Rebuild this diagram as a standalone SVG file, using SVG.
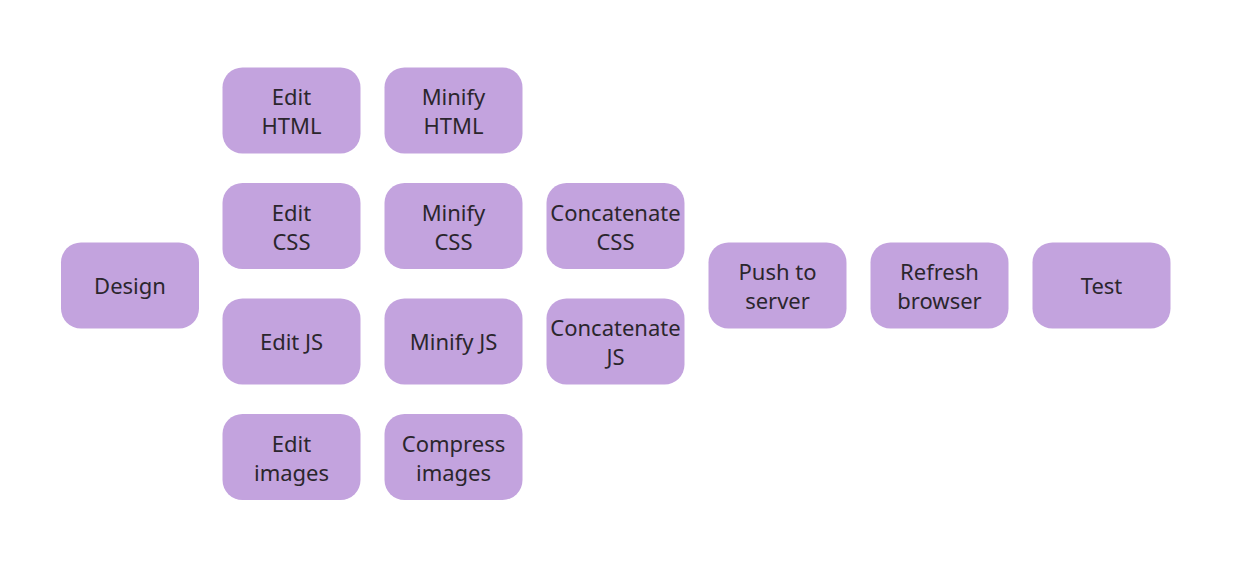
<svg xmlns="http://www.w3.org/2000/svg" width="1248" height="574" viewBox="0 0 1248 574">
<style>
.box{fill:#C3A3DE;}
.t{font-family:"Noto Sans","Liberation Sans",sans-serif;font-size:22px;fill:#2b262d;text-anchor:middle;}
</style>
<defs>
<rect id="b" class="box" width="138" height="86" rx="20" ry="20"/>
</defs>
<rect width="1248" height="574" fill="#ffffff"/>
<g id="connectors"></g>
<g id="design"><use href="#b" x="61" y="242.5"/><text class="t" x="130" y="294">Design</text></g>
<g id="edit-html"><use href="#b" x="222.5" y="67.5"/><text class="t" x="291.5" y="105">Edit</text><text class="t" x="291.5" y="134">HTML</text></g>
<g id="edit-css"><use href="#b" x="222.5" y="183"/><text class="t" x="291.5" y="220.5">Edit</text><text class="t" x="291.5" y="249.5">CSS</text></g>
<g id="edit-js"><use href="#b" x="222.5" y="298.5"/><text class="t" x="291.5" y="350">Edit JS</text></g>
<g id="edit-images"><use href="#b" x="222.5" y="414"/><text class="t" x="291.5" y="451.5">Edit</text><text class="t" x="291.5" y="480.5">images</text></g>
<g id="minify-html"><use href="#b" x="384.5" y="67.5"/><text class="t" x="453.5" y="105">Minify</text><text class="t" x="453.5" y="134">HTML</text></g>
<g id="minify-css"><use href="#b" x="384.5" y="183"/><text class="t" x="453.5" y="220.5">Minify</text><text class="t" x="453.5" y="249.5">CSS</text></g>
<g id="minify-js"><use href="#b" x="384.5" y="298.5"/><text class="t" x="453.5" y="350">Minify JS</text></g>
<g id="compress-images"><use href="#b" x="384.5" y="414"/><text class="t" x="453.5" y="451.5">Compress</text><text class="t" x="453.5" y="480.5">images</text></g>
<g id="concat-css"><use href="#b" x="546.5" y="183"/><text class="t" x="615.5" y="220.5">Concatenate</text><text class="t" x="615.5" y="249.5">CSS</text></g>
<g id="concat-js"><use href="#b" x="546.5" y="298.5"/><text class="t" x="615.5" y="336">Concatenate</text><text class="t" x="615.5" y="365">JS</text></g>
<g id="push"><use href="#b" x="708.5" y="242.5"/><text class="t" x="777.5" y="280">Push to</text><text class="t" x="777.5" y="309">server</text></g>
<g id="refresh"><use href="#b" x="870.5" y="242.5"/><text class="t" x="939.5" y="280">Refresh</text><text class="t" x="939.5" y="309">browser</text></g>
<g id="test"><use href="#b" x="1032.5" y="242.5"/><text class="t" x="1101.5" y="294">Test</text></g>
</svg>
